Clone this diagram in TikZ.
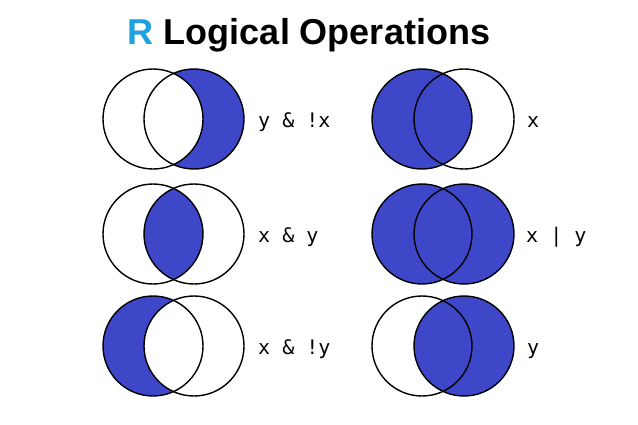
\documentclass[tikz,border=0pt]{standalone}
\usepackage{fontspec}
\setmainfont{Liberation Sans}
\newfontfamily\labfont{DejaVu Sans Mono}
\definecolor{vfill}{HTML}{3D47C8}
\definecolor{rblue}{HTML}{1DA1E0}
\begin{document}
\begin{tikzpicture}[x=1pt,y=-1pt,
  ring/.style={circle,draw=black,line width=1.4pt,minimum size=100pt,inner sep=0pt},
  shade/.style={fill=vfill},
  lab/.style={font=\labfont\fontsize{20}{24}\selectfont,anchor=base west,inner sep=0pt}]
\useasboundingbox (0,0) rectangle (638,424);
\fill[white] (0,0) rectangle (638,424);
\node[font=\bfseries\fontsize{36}{40}\selectfont,anchor=base,inner sep=0pt] (title) at (309,44) {\textcolor{rblue}{R} Logical Operations};
% row 1 left: y & !x
\fill[shade] (194,119) circle (50);
\fill[white] (153,119) circle (50);
\node[ring] (a1) at (153,119) {};
\node[ring] (b1) at (194,119) {};
\node[lab] (l1) at (258,127) {y \& !x};
% row 1 right: x
\fill[shade] (422,119) circle (50);
\node[ring] (a2) at (422,119) {};
\node[ring] (b2) at (464,119) {};
\node[lab] (l2) at (527,127) {x};
% row 2 left: x & y
\begin{scope}
\clip (153,234) circle (50);
\fill[shade] (194,234) circle (50);
\end{scope}
\node[ring] (a3) at (153,234) {};
\node[ring] (b3) at (194,234) {};
\node[lab] (l3) at (258,242) {x \& y};
% row 2 right: x | y
\fill[shade] (422,234) circle (50);
\fill[shade] (464,234) circle (50);
\node[ring] (a4) at (422,234) {};
\node[ring] (b4) at (464,234) {};
\node[lab] (l4) at (526,242) {x | y};
% row 3 left: x & !y
\fill[shade] (153,346) circle (50);
\fill[white] (194,346) circle (50);
\node[ring] (a5) at (153,346) {};
\node[ring] (b5) at (194,346) {};
\node[lab] (l5) at (258,354) {x \& !y};
% row 3 right: y
\fill[shade] (464,346) circle (50);
\node[ring] (a6) at (422,346) {};
\node[ring] (b6) at (464,346) {};
\node[lab] (l6) at (527,354) {y};
\end{tikzpicture}
\end{document}
